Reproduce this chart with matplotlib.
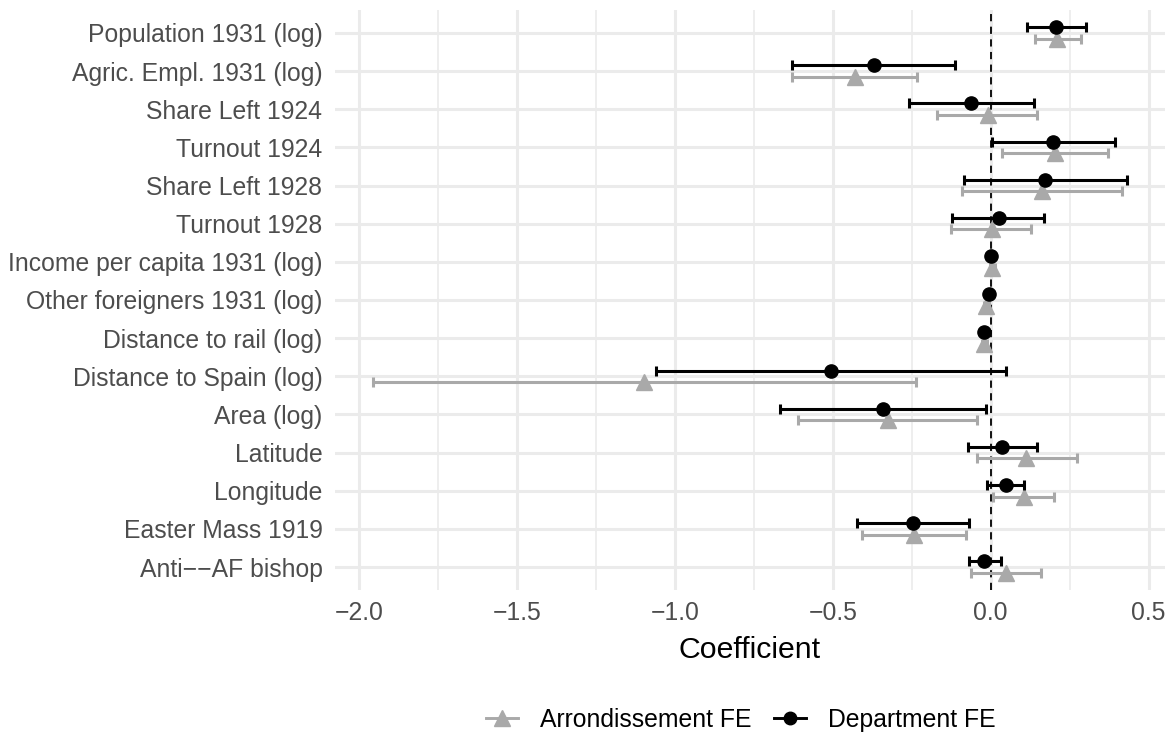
import matplotlib
matplotlib.use("Agg")
import matplotlib.pyplot as plt
from matplotlib.lines import Line2D
from matplotlib.ticker import MultipleLocator

plt.rcParams['font.family'] = ['Liberation Sans', 'DejaVu Sans']

variables = [
    "Population 1931 (log)", "Agric. Empl. 1931 (log)", "Share Left 1924",
    "Turnout 1924", "Share Left 1928", "Turnout 1928",
    "Income per capita 1931 (log)", "Other foreigners 1931 (log)",
    "Distance to rail (log)", "Distance to Spain (log)", "Area (log)",
    "Latitude", "Longitude", "Easter Mass 1919", "Anti\u2212\u2212AF bishop",
]

dept_coef = [0.207, -0.369, -0.063, 0.197, 0.172, 0.026, 0.002, -0.005,
             -0.020, -0.507, -0.342, 0.036, 0.048, -0.245, -0.020]
dept_lo = [0.114, -0.628, -0.259, 0.005, -0.083, -0.121, -0.006, -0.013,
           -0.028, -1.061, -0.668, -0.073, -0.012, -0.423, -0.070]
dept_hi = [0.303, -0.112, 0.136, 0.393, 0.432, 0.170, 0.010, 0.003,
           -0.012, 0.049, -0.014, 0.146, 0.107, -0.068, 0.034]

arr_coef = [0.211, -0.430, -0.010, 0.204, 0.162, 0.005, 0.005, -0.014,
            -0.020, -1.099, -0.325, 0.112, 0.104, -0.243, 0.049]
arr_lo = [0.139, -0.628, -0.170, 0.036, -0.090, -0.124, -0.003, -0.022,
          -0.028, -1.957, -0.609, -0.043, 0.007, -0.406, -0.061]
arr_hi = [0.286, -0.233, 0.148, 0.372, 0.415, 0.129, 0.013, -0.006,
          -0.012, -0.236, -0.043, 0.274, 0.202, -0.078, 0.160]

W, H = 1171, 748
fig = plt.figure(figsize=(W / 100, H / 100), dpi=100)
ax = fig.add_axes([335 / W, 1 - 590 / H, (1165 - 335) / W, (590 - 10) / H])

n = len(variables)
ypos = [n - 1 - i for i in range(n)]
off = 0.15

arr_col = "#A9A9A9"
dept_col = "#000000"

ax.axvline(0, color="black", linestyle=(0, (4, 3)), linewidth=1.3, zorder=2)

ya = [y - off for y in ypos]
yd = [y + off for y in ypos]
ax.errorbar(arr_coef, ya,
            xerr=[[c - l for c, l in zip(arr_coef, arr_lo)],
                  [h - c for c, h in zip(arr_coef, arr_hi)]],
            fmt="^", color=arr_col, ecolor=arr_col, markersize=11.5,
            elinewidth=2.2, capsize=3.4, capthick=2.2, zorder=3)
ax.errorbar(dept_coef, yd,
            xerr=[[c - l for c, l in zip(dept_coef, dept_lo)],
                  [h - c for c, h in zip(dept_coef, dept_hi)]],
            fmt="o", color=dept_col, ecolor=dept_col, markersize=9.5,
            elinewidth=2.2, capsize=3.4, capthick=2.2, zorder=4)

ax.set_xlim(-2.076, 0.552)
ax.set_ylim(-0.6, n - 0.4)
ax.set_yticks(ypos)
ax.set_yticklabels(variables)
ax.xaxis.set_minor_locator(MultipleLocator(0.25))
ax.set_xticks([-2.0, -1.5, -1.0, -0.5, 0.0, 0.5])
ax.set_xticklabels(["\u22122.0", "\u22121.5", "\u22121.0", "\u22120.5", "0.0", "0.5"])

ax.grid(True, which="major", color="#EBEBEB", linewidth=2.2, zorder=0)
ax.grid(True, which="minor", axis="x", color="#EBEBEB", linewidth=1.2, zorder=0)
ax.set_axisbelow(True)
for s in ax.spines.values():
    s.set_visible(False)
ax.tick_params(axis="both", which="both", length=0, labelsize=17.8,
               labelcolor="#4D4D4D")
ax.tick_params(axis="y", pad=9)
ax.tick_params(axis="x", pad=8)
ax.set_xlabel("Coefficient", fontsize=21.8, color="black", labelpad=8)

handles = [
    Line2D([0], [0], color=arr_col, marker="^", markersize=11, linewidth=2.1),
    Line2D([0], [0], color=dept_col, marker="o", markersize=9, linewidth=2.1),
]
fig.legend(handles, ["Arrondissement FE", "Department FE"], loc="center",
           bbox_to_anchor=(741 / W, 1 - 720 / H), ncol=2, frameon=False,
           fontsize=17.8, handlelength=1.3, columnspacing=0.9,
           handletextpad=0.9)

fig.savefig("out.png", dpi=100)
